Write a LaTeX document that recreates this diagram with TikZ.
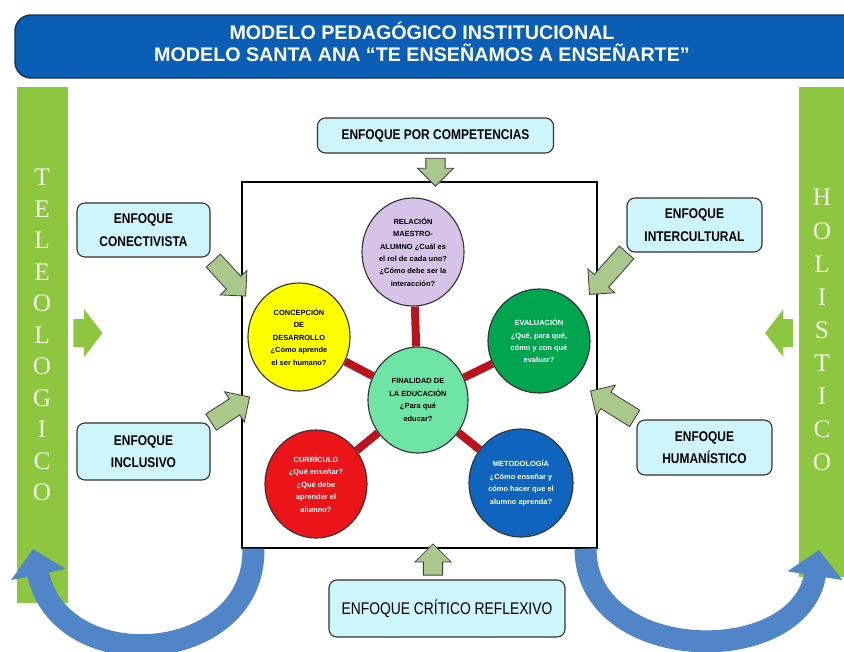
\documentclass[tikz,border=0pt]{standalone}
\usepackage{fontspec}
\setmainfont{Liberation Sans}
\newfontfamily\letterfont{Liberation Serif}
\newfontfamily\narrowfont[FakeStretch=0.85]{Liberation Sans}
\newfontfamily\critfont[FakeStretch=0.82]{Liberation Sans}
\usetikzlibrary{shapes.geometric}
\usetikzlibrary{shapes.arrows}
\usetikzlibrary{arrows.meta}

\definecolor{bannerblue}{RGB}{10,95,180}
\definecolor{bannerline}{RGB}{25,45,85}
\definecolor{bargreen}{RGB}{141,198,63}
\definecolor{lettercol}{RGB}{242,248,228}
\definecolor{boxcyan}{RGB}{205,245,250}
\definecolor{arrowgreen}{RGB}{170,200,140}
\definecolor{spokered}{RGB}{185,20,30}
\definecolor{lavender}{RGB}{215,195,232}
\definecolor{circyellow}{RGB}{255,255,0}
\definecolor{circgreen}{RGB}{0,165,80}
\definecolor{circmint}{RGB}{110,228,165}
\definecolor{circred}{RGB}{235,20,25}
\definecolor{circblue}{RGB}{15,100,190}
\definecolor{curveblue}{RGB}{80,133,200}

\tikzset{
  enfoque/.style={draw=black!80, fill=boxcyan, rounded corners=0.2cm, line width=0.8pt,
    align=center, inner sep=0pt, font=\narrowfont\fontsize{10}{16}\selectfont\bfseries},
  circ/.style={ellipse, draw=black!80, line width=0.8pt, align=center, inner sep=0pt,
    minimum width=2.55cm, minimum height=2.7cm, font=\fontsize{5.3}{8.8}\selectfont\bfseries},
  spoke/.style={spokered, line width=0.2cm},
  blockarrow/.style={single arrow, draw=black!75, fill=arrowgreen, line width=0.6pt,
    inner xsep=0pt, inner ysep=0.23cm, single arrow head extend=0.21cm, allow upside down},
  bararrow/.style={single arrow, fill=bargreen, inner xsep=0pt, inner ysep=0.3375cm,
    single arrow head extend=0.25cm, single arrow tip angle=105, allow upside down},
  curve/.style={curveblue, line width=0.55cm, -{Triangle[width=1.35cm,length=0.65cm]}}
}

\begin{document}
\begin{tikzpicture}[x=0.025cm,y=-0.025cm]

\useasboundingbox (0,0) rectangle (844,652);

% title
\draw[fill=bannerblue, draw=bannerline, line width=1pt, rounded corners=0.4cm] (15,15) rectangle (870,78);
\node[text=white, align=center, font=\fontsize{14}{15.8}\selectfont\bfseries] (title) at (422,42)
  {MODELO PEDAGÓGICO INSTITUCIONAL\\MODELO SANTA ANA “TE ENSEÑAMOS A ENSEÑARTE”};

% side bars
\node[fill=bargreen, minimum width=1.275cm, minimum height=12.9cm, inner sep=0pt] (lbar) at (42.5,345) {};
\node[fill=bargreen, minimum width=1.275cm, minimum height=12.25cm, inner sep=0pt] (rbar) at (824.5,332) {};
\node[text=lettercol, align=center, font=\letterfont\fontsize{18}{22.4}\selectfont] (lword) at (42,335)
  {T\\E\\L\\E\\O\\L\\O\\G\\I\\C\\O};
\node[text=lettercol, align=center, font=\letterfont\fontsize{18}{23.5}\selectfont] (rword) at (822,330)
  {H\\O\\L\\I\\S\\T\\I\\C\\O};

\coordinate (lpoint) at (97,333);
\coordinate (rpoint) at (770,333);
\path (lbar.east |- lpoint) -- (lpoint) node[bararrow, midway, sloped, minimum height=0.725cm] {};
\path (rbar.west |- rpoint) -- (rpoint) node[bararrow, midway, sloped, minimum height=0.7cm] {};

% central frame
\node[draw, line width=0.8pt, minimum width=8.875cm, minimum height=9.15cm, inner sep=0pt] (frame) at (419.5,365) {};

% circles
\node[circ, fill=lavender] (rel) at (413,252)
  {RELACIÓN\\MAESTRO-\\ALUMNO ¿Cuál es\\el rol de cada uno?\\¿Cómo debe ser la\\interacción?};
\node[circ, fill=circyellow] (conc) at (299,337)
  {CONCEPCIÓN\\DE\\DESARROLLO\\¿Cómo aprende\\el ser humano?};
\node[circ, fill=circgreen, text=white, minimum width=2.55cm, minimum height=2.6cm] (eval) at (539,341)
  {EVALUACIÓN\\¿Qué, para qué,\\cómo y con qué\\evaluar?};
\node[circ, fill=circmint, minimum width=2.5cm, minimum height=2.65cm] (fin) at (418,400)
  {FINALIDAD DE\\LA EDUCACIÓN\\¿Para qué\\educar?};
\node[circ, fill=circred, text=white] (curr) at (316,484)
  {CURRÍCULO\\¿Qué enseñar?\\¿Qué debe\\aprender el\\alumno?};
\node[circ, fill=circblue, text=white, minimum width=2.6cm] (meto) at (521,483)
  {METODOLOGÍA\\¿Cómo enseñar y\\cómo hacer que el\\alumno aprenda?};

\draw[spoke] (fin) -- (rel);
\draw[spoke] (fin) -- (conc);
\draw[spoke] (fin) -- (eval);
\draw[spoke] (fin) -- (curr);
\draw[spoke] (fin) -- (meto);

% enfoques
\node[enfoque, minimum width=5.9cm, minimum height=0.875cm] (comp) at (435.5,135.5) {ENFOQUE POR COMPETENCIAS};
\node[enfoque, minimum width=3.325cm, minimum height=1.35cm] (conect) at (143.5,230) {ENFOQUE\\CONECTIVISTA};
\node[enfoque, minimum width=3.325cm, minimum height=1.425cm] (incl) at (143.5,451.5) {ENFOQUE\\INCLUSIVO};
\node[enfoque, minimum width=3.375cm, minimum height=1.35cm] (inter) at (694.5,225) {ENFOQUE\\INTERCULTURAL};
\node[enfoque, minimum width=3.375cm, minimum height=1.375cm] (human) at (704.5,447.5) {ENFOQUE\\HUMANÍSTICO};
\node[enfoque, minimum width=5.9cm, minimum height=1.425cm, font=\critfont\fontsize{12}{14}\selectfont] (crit) at (447,608.5)
  {ENFOQUE CRÍTICO REFLEXIVO};

\coordinate (cnTip) at (242,292);
\coordinate (inTip) at (242,402);
\coordinate (icTip) at (596,287);
\coordinate (huTip) at (597,395);
\coordinate (crTail) at (433,580);

\path (comp.south) -- (comp.south |- frame.north) node[blockarrow, midway, sloped, minimum height=0.7cm] {};
\path (crTail) -- (crTail |- frame.south) node[blockarrow, midway, sloped, minimum height=0.78cm] {};
\path (conect.south east) -- (cnTip) node[blockarrow, midway, sloped, minimum height=1.2cm] {};
\path (incl.north east) -- (inTip) node[blockarrow, midway, sloped, minimum height=1.15cm] {};
\path (inter.south west) -- (icTip) node[blockarrow, midway, sloped, minimum height=1.4cm] {};
\path (human.north west) -- (huTip) node[blockarrow, midway, sloped, minimum height=1.3cm] {};

% blue return arrows
\coordinate (ltip) at (33,549);
\coordinate (rtip) at (819,550);
\draw[curve] ([xshift=0.3cm]frame.south west) .. controls (256,665) and (60,680) .. (ltip);
\draw[curve] ([xshift=-0.3cm]frame.south east) .. controls (585,665) and (800,670) .. (rtip);

\end{tikzpicture}
\end{document}
